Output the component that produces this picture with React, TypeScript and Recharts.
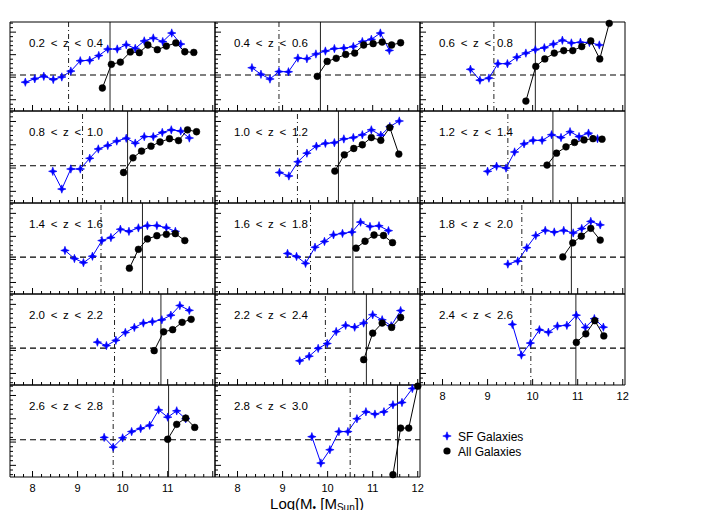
import React from 'react';
import { ComposedChart, Line, XAxis, YAxis, ReferenceLine } from 'recharts';

// redshift bins, in panel order (left to right, top to bottom)
const zLabels = [
  '0.2 < z < 0.4', '0.4 < z < 0.6', '0.6 < z < 0.8',
  '0.8 < z < 1.0', '1.0 < z < 1.2', '1.2 < z < 1.4',
  '1.4 < z < 1.6', '1.6 < z < 1.8', '1.8 < z < 2.0',
  '2.0 < z < 2.2', '2.2 < z < 2.4', '2.4 < z < 2.6',
  '2.6 < z < 2.8', '2.8 < z < 3.0',
];

const xTickLabels = [8, 9, 10, 11, 12];
const yTickLabels = [-1, 0, 1, 2];

// mass limits: dash-dot (SF) and solid (all)
const sfLimits = [8.8, 8.92, 9.14, 9.11, 9.33, 9.45, 9.52, 9.62, 9.76, 9.82, 9.95, 9.96, 9.79, 10.5];
const allLimits = [9.72, 9.84, 10.06, 10.11, 10.24, 10.45, 10.44, 10.56, 10.86, 10.85, 10.86, 10.96, 11.02, 11.55];

// [log mass, value]
const sf02 = [[7.84, -0.22], [8.05, -0.07], [8.25, 0.04], [8.46, -0.1], [8.65, 0.01], [8.85, 0.27], [9.06, 0.73], [9.27, 0.75], [9.47, 0.96], [9.67, 1.25], [9.88, 1.25], [10.08, 1.44], [10.28, 1.28], [10.48, 1.61], [10.68, 1.74], [10.89, 1.58], [11.09, 1.96], [11.29, 1.47]];
const all02 = [[9.55, -0.48], [9.75, 0.57], [9.95, 0.67], [10.17, 1.12], [10.37, 1.09], [10.56, 1.43], [10.77, 1.22], [10.97, 1.38], [11.18, 1.52], [11.38, 1.13], [11.58, 1.1]];

const sf04 = [[8.32, 0.42], [8.52, 0.13], [8.72, -0.08], [8.92, 0.25], [9.13, 0.24], [9.34, 0.85], [9.54, 0.82], [9.74, 1.03], [9.95, 1.16], [10.15, 1.27], [10.36, 1.29], [10.57, 1.36], [10.77, 1.58], [10.97, 1.68], [11.17, 1.96], [11.37, 1.19]];
const all04 = [[9.77, 0.04], [9.99, 0.7], [10.19, 0.84], [10.4, 1.01], [10.6, 1.07], [10.8, 1.43], [11.01, 1.49], [11.21, 1.56], [11.42, 1.43], [11.62, 1.53]];

const sf06 = [[8.62, 0.35], [8.83, -0.13], [9.03, -0.04], [9.23, 0.6], [9.44, 0.6], [9.65, 0.89], [9.85, 1.07], [10.06, 1.22], [10.26, 1.31], [10.46, 1.47], [10.66, 1.64], [10.86, 1.52], [11.06, 1.55], [11.26, 1.54], [11.48, 1.43]];
const all06 = [[9.85, -1.06], [10.07, 0.48], [10.27, 0.81], [10.48, 1.07], [10.69, 1.18], [10.89, 1.18], [11.09, 1.36], [11.29, 1.61], [11.49, 0.81], [11.7, 2.39]];

const sf08 = [[8.45, -0.14], [8.65, -0.9], [8.85, -0.04], [9.06, -0.04], [9.27, 0.42], [9.46, 0.82], [9.67, 0.97], [9.87, 1.16], [10.08, 1.28], [10.28, 1.07], [10.48, 1.35], [10.68, 1.35], [10.88, 1.53], [11.08, 1.64], [11.29, 1.59], [11.48, 1.29]];
const all08 = [[10.02, -0.19], [10.23, 0.44], [10.42, 0.73], [10.63, 0.94], [10.83, 1.12], [11.04, 1.26], [11.24, 1.18], [11.44, 1.64], [11.64, 1.56]];

const sf10 = [[8.93, -0.19], [9.14, -0.34], [9.34, 0.27], [9.54, 0.64], [9.75, 0.94], [9.95, 1.06], [10.15, 1.09], [10.36, 1.25], [10.57, 1.31], [10.77, 1.43], [10.97, 1.64], [11.18, 1.41], [11.38, 1.78], [11.59, 2.02]];
const all10 = [[10.16, -0.13], [10.37, 0.57], [10.58, 0.84], [10.77, 1.0], [10.97, 1.31], [11.18, 1.19], [11.38, 1.74], [11.58, 0.6]];

const sf12 = [[9.0, -0.14], [9.2, 0.08], [9.41, 0.0], [9.6, 0.69], [9.81, 1.04], [10.01, 1.19], [10.21, 1.19], [10.42, 1.43], [10.63, 1.31], [10.83, 1.56], [11.03, 1.35], [11.24, 1.5], [11.44, 1.26]];
const all12 = [[10.32, 0.13], [10.53, 0.64], [10.74, 0.91], [10.93, 1.1], [11.14, 1.21], [11.34, 1.26], [11.54, 1.24]];

const sf14 = [[8.72, 0.39], [8.93, 0.04], [9.13, -0.14], [9.33, 0.14], [9.54, 0.82], [9.74, 0.95], [9.95, 1.31], [10.14, 1.22], [10.35, 1.37], [10.55, 1.47], [10.76, 1.47], [10.97, 1.38], [11.17, 1.22]];
const all14 = [[10.15, -0.38], [10.35, 0.44], [10.55, 0.89], [10.76, 1.03], [10.97, 1.09], [11.17, 1.12], [11.38, 0.82]];

const sf16 = [[9.11, 0.26], [9.31, 0.13], [9.51, -0.17], [9.72, 0.53], [9.93, 0.78], [10.13, 1.07], [10.33, 1.13], [10.54, 1.19], [10.73, 1.62], [10.94, 1.43], [11.14, 1.46], [11.35, 1.25]];
const all16 = [[10.63, 0.49], [10.83, 0.79], [11.03, 1.06], [11.24, 1.04], [11.44, 0.73]];

const sf18 = [[9.45, -0.2], [9.67, -0.07], [9.87, 0.51], [10.07, 1.04], [10.28, 1.26], [10.48, 1.19], [10.69, 1.26], [10.9, 1.15], [11.09, 1.34], [11.29, 1.65], [11.5, 1.5]];
const all18 = [[10.67, 0.11], [10.89, 0.72], [11.08, 1.01], [11.29, 1.35], [11.5, 0.84]];

const sf20 = [[9.44, 0.36], [9.64, 0.21], [9.85, 0.44], [10.06, 0.78], [10.26, 1.0], [10.46, 1.19], [10.66, 1.25], [10.87, 1.33], [11.07, 1.53], [11.27, 1.95], [11.48, 1.74]];
const all20 = [[10.7, -0.01], [10.91, 0.81], [11.11, 0.9], [11.32, 1.22], [11.52, 1.35]];

const sf22 = [[9.38, -0.45], [9.59, -0.25], [9.79, 0.09], [9.99, 0.3], [10.19, 0.82], [10.4, 1.09], [10.6, 1.01], [10.8, 1.19], [11.0, 1.55], [11.21, 1.33], [11.41, 1.07], [11.62, 1.73]];
const all22 = [[10.8, -0.4], [11.0, 0.75], [11.21, 1.19], [11.42, 1.0], [11.62, 1.43]];

const sf24 = [[9.55, 1.13], [9.75, -0.2], [9.95, 0.32], [10.15, 0.9], [10.35, 0.79], [10.55, 1.06], [10.76, 1.09], [10.97, 1.53], [11.17, 1.0], [11.37, 1.38], [11.57, 1.01]];
const all24 = [[10.97, 0.35], [11.18, 0.72], [11.38, 1.29], [11.58, 0.63]];

const sf26 = [[9.59, 0.2], [9.79, -0.22], [10.0, 0.18], [10.2, 0.45], [10.4, 0.58], [10.6, 0.72], [10.8, 1.38], [11.0, 1.07], [11.2, 1.34], [11.4, 1.0]];
const all26 = [[11.0, 0.12], [11.2, 0.76], [11.4, 1.03], [11.6, 0.63]];

const sf28 = [[9.65, 0.23], [9.85, -0.9], [10.05, -0.33], [10.25, 0.45], [10.45, 0.45], [10.65, 1.0], [10.85, 1.3], [11.05, 1.2], [11.25, 1.3], [11.45, 1.6], [11.65, 1.7], [11.88, 2.3]];
const all28 = [[11.45, -1.4], [11.62, 0.6], [11.8, 0.6], [12.0, 2.4]];

const sfSeries = [sf02, sf04, sf06, sf08, sf10, sf12, sf14, sf16, sf18, sf20, sf22, sf24, sf26, sf28];
const allSeries = [all02, all04, all06, all08, all10, all12, all14, all16, all18, all20, all22, all24, all26, all28];

const X_DOMAIN: [number, number] = [7.5, 12.05];
const Y_DOMAIN: [number, number] = [-1.5, 2.45];
const ZERO_LINE = 0.1;

const COL_LEFT = [10, 215, 420];
const ROW_TOP = [22, 111, 203, 294, 385];
const ROW_H = [89, 92, 91, 91, 92];
const PANEL_W = 205;
// room around each plot for labels; axes themselves are 1px wide
const PAD = { top: 4, right: 4, bottom: 24, left: 16 };
const FONT = '"Liberation Sans", Arial, sans-serif';

// minor ticks every 0.2
const xTicks: number[] = [];
for (let i = 38; i <= 60; i++) xTicks.push(Math.round(i * 20) / 100);
const yTicks: number[] = [];
for (let i = -7; i <= 12; i++) yTicks.push(Math.round(i * 20) / 100);

const isMajor = (v: number) => Math.abs(v - Math.round(v)) < 1e-6;
const toPts = (arr: number[][]) => arr.map(([m, v]) => ({ m, v }));

const StarDot = (p: any) => {
  const { cx, cy, index } = p;
  if (cx == null || cy == null) return <g key={index} />;
  const a = 4.2, b = 1.1;
  return (
    <path
      key={index}
      d={`M${cx},${cy - a}L${cx + b},${cy - b}L${cx + a},${cy}L${cx + b},${cy + b}L${cx},${cy + a}L${cx - b},${cy + b}L${cx - a},${cy}L${cx - b},${cy - b}Z`}
      fill="#0000ff"
      stroke="#0000ff"
      strokeWidth={0.6}
    />
  );
};

const makeTick = (side: 'b' | 't' | 'l' | 'r', labels: number[]) => (p: any) => {
  const { x, y, payload } = p;
  const v = payload.value;
  const len = isMajor(v) ? 6 : 3;
  const showLabel = isMajor(v) && labels.includes(Math.round(v));
  if (side === 'b') {
    return (
      <g>
        <line x1={x} x2={x} y1={y} y2={y - len} stroke="#000" />
        {showLabel && (
          <text x={x} y={y + 15} textAnchor="middle" fontSize={11} fontFamily={FONT} fill="#000">{Math.round(v)}</text>
        )}
      </g>
    );
  }
  if (side === 't') return <line x1={x} x2={x} y1={y} y2={y + len} stroke="#000" />;
  if (side === 'l') {
    return (
      <g>
        <line x1={x} x2={x + len} y1={y} y2={y} stroke="#000" />
        {showLabel && (
          <text x={x - 2} y={y + 4} textAnchor="end" fontSize={11.5} fontFamily={FONT} fill="#000">{Math.round(v)}</text>
        )}
      </g>
    );
  }
  return <line x1={x} x2={x - len} y1={y} y2={y} stroke="#000" />;
};

const Panel = ({ idx }: { idx: number }) => {
  const col = idx % 3;
  const row = Math.floor(idx / 3);
  const h = ROW_H[row];
  const bottomRow = row === 4 || (row === 3 && col === 2);
  const xLabels = bottomRow ? (col === 0 ? xTickLabels.slice(0, 4) : xTickLabels) : [];
  const yLabels = col === 0 ? yTickLabels : [];
  const axisCommon = { tickSize: 0, tickMargin: 0, tickLine: false, interval: 0 as const, axisLine: { stroke: '#000' } };
  const margin = { top: PAD.top - 1, right: PAD.right - 1, bottom: PAD.bottom - 1, left: PAD.left - 1 };
  return (
    <div style={{ position: 'absolute', left: COL_LEFT[col] - PAD.left, top: ROW_TOP[row] - PAD.top }}>
      <ComposedChart width={PANEL_W + PAD.left + PAD.right} height={h + PAD.top + PAD.bottom} margin={margin}>
        <XAxis xAxisId="b" type="number" dataKey="m" domain={X_DOMAIN} ticks={xTicks} orientation="bottom" height={1} {...axisCommon} tick={makeTick('b', xLabels)} />
        <XAxis xAxisId="t" type="number" dataKey="m" domain={X_DOMAIN} ticks={xTicks} orientation="top" height={1} {...axisCommon} tick={makeTick('t', [])} />
        <YAxis yAxisId="l" type="number" dataKey="v" domain={Y_DOMAIN} ticks={yTicks} orientation="left" width={1} {...axisCommon} tick={makeTick('l', yLabels)} />
        <YAxis yAxisId="r" type="number" dataKey="v" domain={Y_DOMAIN} ticks={yTicks} orientation="right" width={1} {...axisCommon} tick={makeTick('r', [])} />
        <ReferenceLine xAxisId="b" yAxisId="l" y={ZERO_LINE} stroke="#000" strokeWidth={1.1} strokeDasharray="6 4" />
        <ReferenceLine xAxisId="b" yAxisId="l" x={sfLimits[idx]} stroke="#222" strokeDasharray="5 3 1 3" />
        <ReferenceLine xAxisId="b" yAxisId="l" x={allLimits[idx]} stroke="#222" />
        <Line xAxisId="b" yAxisId="l" data={toPts(sfSeries[idx])} dataKey="v" stroke="#0000ff" strokeWidth={1} dot={StarDot} isAnimationActive={false} />
        <Line xAxisId="b" yAxisId="l" data={toPts(allSeries[idx])} dataKey="v" stroke="#000" strokeWidth={1} dot={{ r: 3.4, fill: '#000', stroke: '#000', strokeWidth: 0.5 }} isAnimationActive={false} />
      </ComposedChart>
    </div>
  );
};

export default function App() {
  return (
    <div style={{ position: 'relative', width: 703, height: 518, margin: -8, background: '#fff', overflow: 'hidden' }}>
      {zLabels.map((_, i) => <Panel key={i} idx={i} />)}
      <svg width={703} height={518} style={{ position: 'absolute', left: 0, top: 0, pointerEvents: 'none' }}>
        {zLabels.map((t, i) => (
          <text key={i} x={COL_LEFT[i % 3] + 19} y={ROW_TOP[Math.floor(i / 3)] + 25} fontSize={11.5} fontFamily={FONT} wordSpacing={2.5} fill="#000">{t}</text>
        ))}
        <g>
          <StarDot cx={447} cy={436} index={0} />
          <text x={458} y={441} fontSize={12} fontFamily={FONT} fill="#000">SF Galaxies</text>
          <circle cx={447} cy={451} r={3.6} fill="#000" />
          <text x={458} y={456} fontSize={12} fontFamily={FONT} fill="#000">All Galaxies</text>
        </g>
        <text x={317} y={509} textAnchor="middle" fontSize={15} fontFamily={FONT} fill="#000">
          Log(M<tspan fontSize={10} dy={2}>•</tspan><tspan dy={-2}> [M</tspan><tspan fontSize={10} dy={2}>Sun</tspan><tspan dy={-2}>])</tspan>
        </text>
      </svg>
    </div>
  );
}
